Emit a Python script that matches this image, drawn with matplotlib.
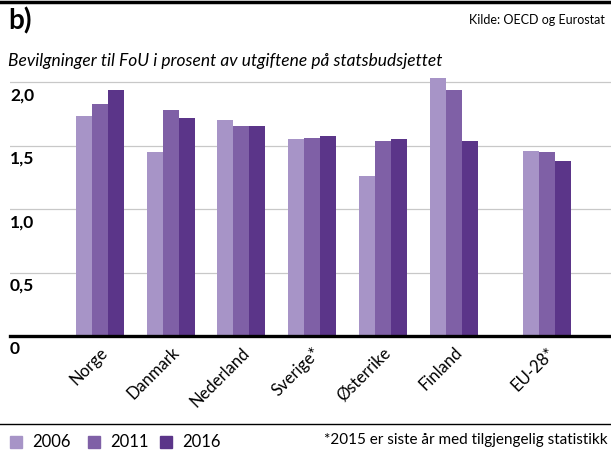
import numpy as np
import matplotlib
matplotlib.use('Agg')
import matplotlib.pyplot as plt
from matplotlib.patches import Rectangle

plt.rcParams['font.family'] = ['Lato', 'DejaVu Sans']

countries = ["Norge", "Danmark", "Nederland", "Sverige*", "Østerrike", "Finland", "EU-28*"]
years = ["2006", "2011", "2016"]
v2006 = [1.73, 1.45, 1.70, 1.55, 1.26, 2.03, 1.46]
v2011 = [1.83, 1.78, 1.65, 1.56, 1.535, 1.94, 1.45]
v2016 = [1.94, 1.72, 1.65, 1.575, 1.55, 1.535, 1.38]
colors = ["#a794c7", "#7f60a6", "#5b3589"]
yticks = [0.5, 1.0, 1.5, 2.0]
ytick_labels = ["0,5", "1,0", "1,5", "2,0"]

# EU-28 sits a bit apart from the countries
xpos = np.array([0, 1, 2, 3, 4, 5, 6.31])
width = 0.226

fig = plt.figure(figsize=(6.11, 4.5), dpi=100)
ax = fig.add_axes([10 / 611, 1 - 336 / 450, 601 / 611, 266.7 / 450])

for i, vals in enumerate([v2006, v2011, v2016]):
    ax.bar(xpos + (i - 1) * width, vals, width=width, color=colors[i], zorder=3, linewidth=0)

ax.set_xlim(-1.27, 7.22)
ax.set_ylim(0, 2.1)
for y in yticks:
    ax.axhline(y, color="#c8c8c8", linewidth=0.9, zorder=1)
ax.axhline(0, color="black", linewidth=2.4, zorder=4, clip_on=False)

for sp in ax.spines.values():
    sp.set_visible(False)
ax.set_yticks([])
ax.set_xticks(xpos)
ax.set_xticklabels(countries, rotation=45, ha="right", va="top", rotation_mode="anchor", fontsize=12)
ax.tick_params(axis="x", length=0, pad=6)

for y, lab in zip(yticks, ytick_labels):
    ax.text(0.0, y - 0.04, lab, transform=ax.get_yaxis_transform(), ha="left", va="top",
            fontsize=12.5, fontweight="bold")
ax.text(0.0, -0.04, "0", transform=ax.get_yaxis_transform(), ha="left", va="top",
        fontsize=12.5, fontweight="bold")

# header
fig.add_artist(plt.Line2D([0, 1], [1 - 2 / 450, 1 - 2 / 450], color="black", linewidth=2.5))
fig.text(8 / 611, 1 - 21 / 450, "b)", fontsize=20, fontweight="bold", ha="left", va="center")
fig.text(605 / 611, 1 - 20 / 450, "Kilde: OECD og Eurostat", fontsize=9, ha="right", va="center")
fig.text(8 / 611, 1 - 61 / 450, "Bevilgninger til FoU i prosent av utgiftene på statsbudsjettet",
         fontsize=12.5, style="italic", ha="left", va="center")

# bottom rule and legend
fig.add_artist(plt.Line2D([0, 1], [1 - 424 / 450, 1 - 424 / 450], color="black", linewidth=1))
leg_x = [10, 88, 160]
for lx, yr, c in zip(leg_x, years, colors):
    fig.add_artist(Rectangle((lx / 611, 1 - 448 / 450), 12 / 611, 12 / 450, color=c,
                             transform=fig.transFigure))
    fig.text((lx + 22) / 611, 1 - 442 / 450, yr, fontsize=12, ha="left", va="center")
fig.text(608 / 611, 1 - 440 / 450, "*2015 er siste år med tilgjengelig statistikk",
         fontsize=11, ha="right", va="center")

fig.savefig("out.png", dpi=100)
